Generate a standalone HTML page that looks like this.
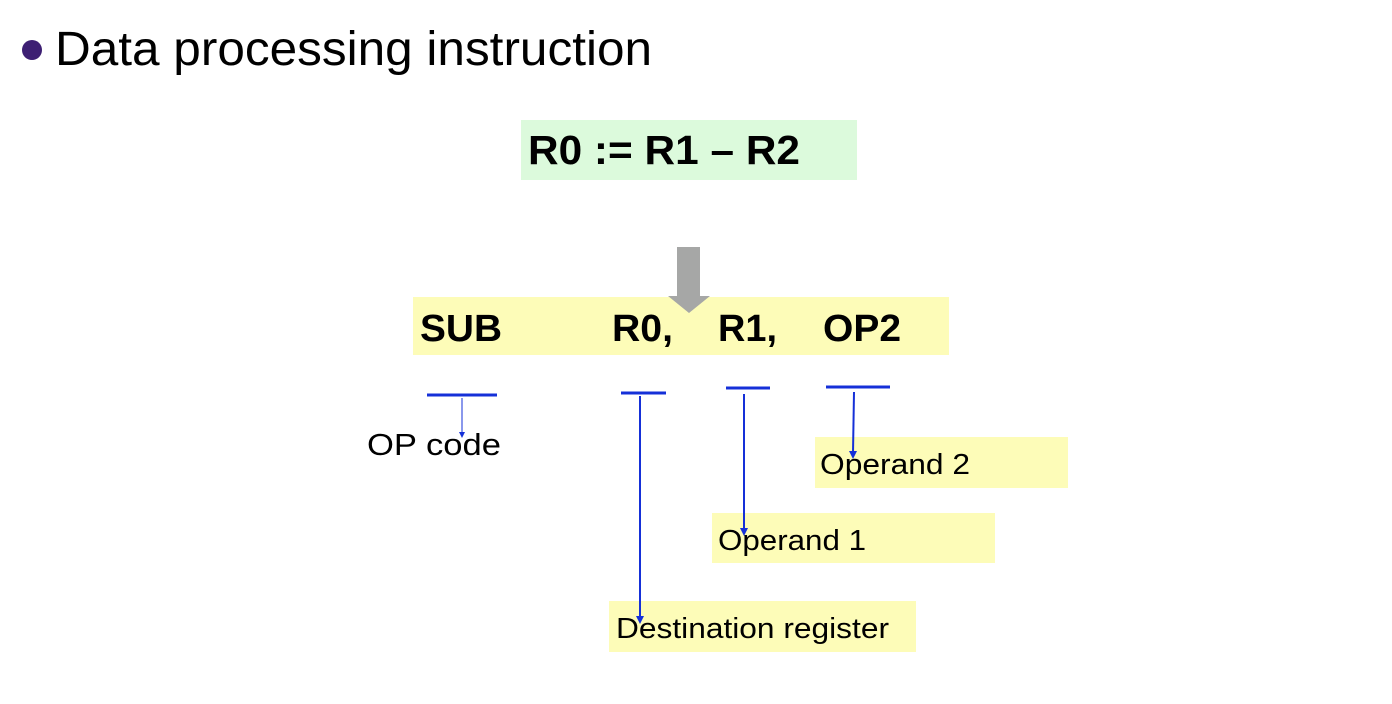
<!DOCTYPE html>
<html><head><meta charset="utf-8"><style>
html,body{margin:0;padding:0;background:#fff;}
svg{display:block;}
text{font-family:"Liberation Sans",Arial,sans-serif;}
</style></head><body>
<svg width="1392" height="704" viewBox="0 0 1392 704" xmlns="http://www.w3.org/2000/svg">
<circle cx="32" cy="50" r="10" fill="#3d1f73"/>
<text x="55" y="65" font-size="48" textLength="597" lengthAdjust="spacingAndGlyphs" fill="#000">Data processing instruction</text>
<rect x="521" y="120" width="336" height="60" fill="#dcfadc"/>
<text x="528" y="164" font-size="41" font-weight="bold" textLength="272" lengthAdjust="spacingAndGlyphs">R0 := R1 – R2</text>
<rect x="413" y="297" width="536" height="58" fill="#fdfcb8"/>
<rect x="677" y="247" width="23" height="50" fill="#a6a7a6"/>
<polygon points="668,296 710,296 689,313" fill="#a6a7a6"/>
<g font-size="38" font-weight="bold">
<text x="420" y="341" textLength="82" lengthAdjust="spacingAndGlyphs">SUB</text>
<text x="612" y="341" textLength="61" lengthAdjust="spacingAndGlyphs">R0,</text>
<text x="718" y="341" textLength="59" lengthAdjust="spacingAndGlyphs">R1,</text>
<text x="823" y="341" textLength="78" lengthAdjust="spacingAndGlyphs">OP2</text>
</g>
<rect x="815" y="437" width="253" height="51" fill="#fdfcb8"/>
<rect x="712" y="513" width="283" height="50" fill="#fdfcb8"/>
<rect x="609" y="601" width="307" height="51" fill="#fdfcb8"/>
<g fill="#000" font-size="31">
<text x="367" y="455" textLength="134" lengthAdjust="spacingAndGlyphs">OP code</text>
</g>
<g fill="#000" font-size="29">
<text x="820" y="474" textLength="150" lengthAdjust="spacingAndGlyphs">Operand 2</text>
<text x="718" y="550" textLength="148" lengthAdjust="spacingAndGlyphs">Operand 1</text>
<text x="616" y="638" textLength="273" lengthAdjust="spacingAndGlyphs">Destination register</text>
</g>
<g stroke="#1530d8" fill="none">
<line x1="427" y1="395" x2="497" y2="395" stroke-width="3"/>
<line x1="621" y1="393" x2="666" y2="393" stroke-width="3"/>
<line x1="726" y1="388" x2="770" y2="388" stroke-width="3"/>
<line x1="826" y1="387" x2="890" y2="387" stroke-width="3"/>
<line x1="462" y1="398" x2="462" y2="434" stroke-width="1"/>
<line x1="640" y1="396" x2="640" y2="618" stroke-width="2"/>
<line x1="744" y1="394" x2="744" y2="530" stroke-width="2"/>
<line x1="854" y1="392" x2="853" y2="453" stroke-width="2"/>
</g>
<g fill="#1530d8">
<polygon points="459,432 465,432 462,438"/>
<polygon points="636,616 644,616 640,624"/>
<polygon points="740,528 748,528 744,536"/>
<polygon points="849,451 857,451 853,459"/>
</g>
</svg>
</body></html>
